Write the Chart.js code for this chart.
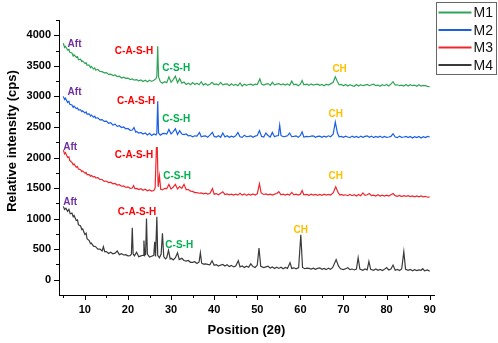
<!DOCTYPE html>
<html>
<head>
<meta charset="utf-8">
<script src="https://cdn.jsdelivr.net/npm/chart.js@4.4.0/dist/chart.umd.min.js"></script>
<style>
  html, body { margin: 0; padding: 0; background: #fff; }
</style>
</head>
<body>
<canvas id="xrd" width="498" height="343"></canvas>
<script>
// series names / colours
const seriesNames = ['M1', 'M2', 'M3', 'M4'];
const seriesColors = ['#2ea556', '#1a5fe6', '#f0262d', '#3a3a3a'];

// [2theta, counts]
const m1 = [
  [5,3870],[5.3,3800],[5.5,3820],[6,3760],[6.3,3770],[6.5,3720],[7,3710],[7.3,3660],[7.5,3680],[8,3640],[8.3,3650],[8.5,3600],[9,3610],[9.3,3570],[9.5,3580],
  [10,3540],[10.3,3550],[10.5,3510],[11,3510],[11.3,3470],[11.5,3490],[12,3450],[12.3,3465],[12.5,3430],[13,3440],[13.5,3410],[14,3405],[14.5,3385],
  [15,3390],[15.5,3360],[16,3365],[16.5,3340],[17,3350],[17.5,3325],[18,3330],[18.5,3300],[19,3315],[19.5,3295],
  [20,3300],[20.5,3275],[21,3285],[21.5,3265],[22,3275],[22.5,3255],[23,3270],[23.5,3245],[24,3265],[24.5,3240],
  [25,3265],[25.5,3245],[26,3265],[26.5,3290],[26.7,3330],[26.9,3820],[27.1,3320],[27.5,3240],[28,3215],[28.5,3240],
  [29,3225],[29.5,3320],[30,3230],[30.5,3275],[31,3330],[31.5,3225],[32,3290],[32.5,3215],[33,3235],[33.5,3195],[34,3215],[34.5,3190],
  [35,3225],[35.5,3195],[36,3215],[36.5,3190],[37,3240],[37.5,3185],[38,3210],[38.5,3180],[39,3200],[39.5,3230],
  [40,3195],[40.5,3205],[41,3185],[41.5,3230],[42,3190],[42.5,3200],[43,3205],[43.5,3175],[44,3205],[44.5,3180],
  [45,3195],[45.5,3175],[46,3220],[46.5,3170],[47,3200],[47.5,3180],[48,3195],[48.5,3200],[49,3180],[49.5,3200],
  [50,3195],[50.6,3285],[51,3200],[51.5,3185],[52,3200],[52.5,3210],[53,3180],[53.5,3230],[54,3190],[54.5,3200],
  [55,3210],[55.5,3190],[56,3205],[56.5,3185],[57,3205],[57.5,3180],[58,3250],[58.5,3190],[59,3200],[59.5,3175],
  [60,3200],[60.4,3260],[60.8,3190],[61.5,3200],[62,3180],[62.5,3205],[63,3185],[63.5,3195],[64,3200],[64.5,3180],
  [65,3195],[65.5,3175],[66,3200],[66.5,3185],[67,3205],[67.6,3230],[68.1,3320],[68.6,3240],[69,3190],[69.5,3195],
  [70,3175],[70.5,3195],[71,3170],[71.5,3190],[72,3175],[72.5,3165],[73,3195],[73.5,3170],[74,3190],[74.5,3175],
  [75,3185],[75.5,3195],[76,3175],[76.5,3190],[77,3200],[77.5,3175],[78,3185],[78.5,3165],[79,3190],[79.5,3175],
  [80,3195],[80.5,3170],[81,3200],[81.5,3240],[82,3185],[82.5,3190],[83,3175],[83.5,3185],[84,3170],[84.5,3195],
  [85,3170],[85.5,3190],[86,3175],[86.5,3185],[87,3165],[87.5,3190],[88,3170],[88.5,3180],[89,3175],[89.5,3165],[90,3160]
];

const m2 = [
  [5,3000],[5.3,2950],[5.5,2970],[6,2900],[6.3,2920],[6.5,2870],[7,2860],[7.3,2820],[7.5,2840],[8,2800],[8.3,2810],[8.5,2780],[9,2780],[9.3,2750],[9.5,2765],
  [10,2730],[10.3,2745],[10.5,2710],[11,2715],[11.3,2680],[11.5,2695],[12,2660],[12.3,2675],[12.5,2645],[13,2650],[13.5,2615],[14,2620],[14.5,2590],
  [15,2595],[15.5,2560],[16,2570],[16.5,2530],[17,2545],[17.5,2510],[18,2520],[18.5,2490],[19,2500],[19.5,2470],
  [20,2475],[20.5,2445],[21,2450],[21.4,2490],[21.8,2415],[22,2425],[22.5,2400],[23,2410],[23.5,2385],[24,2400],[24.5,2370],
  [25,2395],[25.5,2360],[26,2385],[26.5,2370],[26.7,2400],[26.9,2920],[27.1,2400],[27.5,2365],[28,2390],[28.5,2395],
  [29,2385],[29.5,2460],[30,2385],[30.5,2425],[31,2470],[31.5,2375],[32,2440],[32.5,2385],[33,2375],[33.5,2385],[34,2355],[34.5,2360],
  [35,2340],[35.5,2355],[36,2350],[36.6,2410],[37,2340],[37.5,2350],[38,2355],[38.5,2330],[39,2365],[39.6,2410],
  [40,2345],[40.5,2335],[41,2355],[41.5,2330],[42,2400],[42.5,2335],[43,2355],[43.5,2330],[44,2350],[44.5,2335],
  [45,2355],[45.5,2410],[46,2340],[46.5,2330],[47,2365],[47.5,2340],[48,2345],[48.5,2355],[49,2330],[49.5,2350],
  [50,2360],[50.5,2440],[51,2345],[51.5,2335],[52,2400],[52.5,2360],[53,2335],[53.5,2410],[54,2340],[54.5,2355],
  [54.9,2360],[55.2,2530],[55.5,2360],[56,2340],[56.5,2345],[57,2355],[57.5,2400],[58,2340],[58.5,2345],[59,2355],[59.5,2330],
  [60,2360],[60.4,2420],[60.8,2335],[61.5,2345],[62,2340],[62.5,2350],[63,2355],[63.5,2330],[64,2345],[64.5,2350],
  [65,2330],[65.5,2350],[66,2335],[66.5,2355],[67,2340],[67.6,2380],[68.1,2580],[68.6,2400],[69,2340],[69.5,2345],
  [70,2330],[70.5,2350],[71,2335],[71.5,2325],[72,2350],[72.5,2330],[73,2345],[73.5,2325],[74,2350],[74.5,2330],
  [75,2345],[75.5,2355],[76,2330],[76.5,2350],[77,2325],[77.5,2345],[78,2330],[78.5,2350],[79,2325],[79.5,2345],
  [80,2330],[80.5,2335],[81,2345],[81.5,2390],[82,2335],[82.5,2325],[83,2350],[83.5,2330],[84,2335],[84.5,2345],
  [85,2325],[85.5,2345],[86,2320],[86.5,2340],[87,2325],[87.5,2345],[88,2320],[88.5,2340],[89,2325],[89.5,2345],[90,2335]
];

const m3 = [
  [5,2120],[5.3,2060],[5.5,2080],[6,2000],[6.3,2010],[6.5,1950],[7,1920],[7.3,1880],[7.5,1895],[8,1840],[8.3,1850],[8.5,1810],[9,1800],[9.3,1770],[9.5,1780],
  [10,1745],[10.3,1755],[10.5,1720],[11,1720],[11.3,1695],[11.5,1705],[12,1680],[12.3,1690],[12.5,1665],[13,1670],[13.5,1640],[14,1640],[14.5,1610],
  [15,1615],[15.5,1590],[16,1595],[16.5,1570],[17,1575],[17.5,1550],[18,1555],[18.5,1530],[19,1535],[19.5,1510],
  [20,1520],[20.5,1495],[21,1500],[21.3,1540],[21.6,1490],[22,1495],[22.5,1475],[23,1490],[23.5,1465],[24,1480],[24.5,1455],
  [25,1470],[25.5,1450],[26,1460],[26.3,1500],[26.6,2160],[26.8,2160],[27,1520],[27.3,1700],[27.6,1480],[28,1470],[28.5,1495],
  [29,1490],[29.5,1560],[30,1485],[30.5,1515],[31,1560],[31.5,1485],[32,1525],[32.5,1495],[33,1560],[33.5,1475],[34,1475],[34.5,1450],
  [35,1445],[35.5,1425],[36,1425],[36.5,1415],[37,1420],[37.5,1405],[38,1415],[38.5,1400],[39,1410],[39.6,1490],
  [40,1400],[40.5,1410],[41,1390],[41.5,1415],[42,1440],[42.5,1395],[43,1405],[43.5,1390],[44,1400],[44.5,1385],
  [45,1400],[45.5,1385],[46,1415],[46.5,1385],[47,1405],[47.5,1380],[48,1400],[48.5,1385],[49,1405],[49.5,1385],
  [50,1405],[50.5,1570],[50.9,1420],[51.5,1395],[52,1405],[52.5,1390],[53,1400],[53.5,1385],[54,1400],[54.5,1410],
  [55,1440],[55.5,1390],[56,1400],[56.5,1385],[57,1400],[57.5,1385],[58,1430],[58.5,1390],[59,1400],[59.5,1385],
  [60,1400],[60.4,1460],[60.8,1390],[61.5,1395],[62,1380],[62.5,1400],[63,1385],[63.5,1395],[64,1380],[64.5,1395],
  [65,1380],[65.5,1400],[66,1385],[66.5,1395],[67,1385],[67.6,1420],[68.2,1520],[68.8,1420],[69.2,1385],[69.5,1395],
  [70,1380],[70.5,1390],[71,1375],[71.5,1395],[72,1375],[72.5,1390],[73,1370],[73.5,1395],[74,1375],[74.5,1420],
  [75,1380],[75.5,1390],[76,1410],[76.5,1375],[77,1385],[77.5,1370],[78,1390],[78.5,1370],[79,1385],[79.5,1370],
  [80,1385],[80.5,1370],[81,1390],[81.5,1410],[82,1375],[82.5,1365],[83,1380],[83.5,1360],[84,1375],[84.5,1365],
  [85,1375],[85.5,1360],[86,1370],[86.5,1355],[87,1370],[87.5,1355],[88,1370],[88.5,1355],[89,1365],[89.5,1350],[90,1355]
];

const m4 = [
  [5,1200],[5.3,1150],[5.6,1170],[6,1120],[6.3,1150],[6.6,1080],[7,1090],[7.3,1030],[7.5,1050],[8,970],[8.3,980],[8.5,900],[9,880],[9.3,820],[9.5,830],
  [10,740],[10.3,760],[10.5,670],[11,640],[11.3,590],[11.5,600],[12,550],[12.5,540],[13,500],[13.5,500],[14,470],[14.3,540],[14.6,460],[15,460],
  [15.5,430],[16,450],[16.5,425],[17,435],[17.5,470],[18,410],[18.5,425],[19,405],[19.5,410],[20,390],
  [20.5,395],[20.8,420],[21,850],[21.2,420],[21.5,390],[22,450],[22.5,375],[23,390],[23.5,400],[23.7,640],[23.9,400],
  [24.1,420],[24.3,1000],[24.5,420],[25,370],[25.5,385],[26,400],[26.2,620],[26.4,380],[26.7,1030],[26.9,400],[27.3,360],
  [27.7,420],[28,760],[28.3,380],[28.7,340],[29,360],[29.4,480],[29.8,340],[30,350],[30.5,325],[31,360],[31.5,440],[31.9,330],
  [32.5,350],[33,315],[33.5,305],[34,315],[34.5,285],[35,285],[35.5,295],[36,265],[36.5,290],[36.8,440],[37.1,270],[37.5,255],
  [38,260],[38.5,250],[39,245],[39.5,310],[40,235],[40.5,245],[41,225],[41.5,240],[42,250],[42.5,225],[43,245],[43.5,215],
  [44,235],[44.5,210],[45,225],[45.6,310],[46,210],[46.5,225],[47,200],[47.5,220],[48,205],[48.5,260],[49,215],[49.5,200],
  [50,240],[50.4,520],[50.8,220],[51.5,200],[52,210],[52.5,220],[53,190],[53.5,210],[54,185],[54.5,205],[55,185],[55.5,205],
  [56,180],[56.5,200],[57,185],[57.6,280],[58,185],[58.5,195],[59,180],[59.6,200],[60.1,735],[60.5,200],[61,180],[61.5,190],
  [62,185],[62.5,175],[63,190],[63.5,170],[64,185],[64.5,195],[65,170],[65.5,185],[66,165],[66.5,190],[67,170],[67.5,200],
  [68.3,330],[68.8,230],[69.3,180],[70,165],[70.5,180],[71,195],[71.5,165],[72,175],[72.5,160],[73,175],[73.4,360],[73.8,175],
  [74.5,155],[75,175],[75.5,160],[75.9,300],[76.3,170],[77,155],[77.5,175],[78,155],[78.5,170],[79,150],[79.5,170],
  [80,200],[80.5,160],[81,175],[81.5,240],[82,155],[82.5,170],[83,150],[83.5,175],[84,460],[84.4,170],[85,155],
  [85.5,170],[86,145],[86.5,165],[87,150],[87.5,160],[88,155],[88.4,180],[88.8,145],[89.5,160],[90,140]
];

const xTicks = [5,10,15,20,25,30,35,40,45,50,55,60,65,70,75,80,85,90];
const yTicks = [0,500,1000,1500,2000,2500,3000,3500,4000];
const yMinor = [250,750,1250,1750,2250,2750,3250,3750,4250];

// phase labels: text, anchor in data units
const phaseText  = ['Aft','C-A-S-H','C-S-H','CH', 'Aft','C-A-S-H','C-S-H','CH', 'Aft','C-A-S-H','C-S-H','CH', 'Aft','C-A-S-H','C-S-H','CH'];
const phaseTheta = [7.6,21.4,31.2,69.1, 7.6,21.9,31.2,68.2, 6.6,21.4,31.4,68.2, 6.6,22.1,31.9,60.1];
const phaseCount = [3854,3740,3462,3446, 3070,2923,2629,2711, 2172,2041,1698,1698, 1274,1110,572,817];
const phaseColors = { 'Aft': '#7030a0', 'C-A-S-H': '#ff0000', 'C-S-H': '#00b050', 'CH': '#ffc000' };

const FONT = "'Liberation Sans', Arial, sans-serif";

const tickMarks = {
  id: 'tickMarks',
  afterDraw(chart) {
    const { ctx, chartArea, scales } = chart;
    ctx.save();
    ctx.strokeStyle = '#000';
    ctx.lineWidth = 1;
    ctx.beginPath();
    xTicks.forEach((v) => {
      const px = Math.round(scales.x.getPixelForValue(v)) + 0.5;
      const len = v % 10 === 0 ? 5 : 3;
      ctx.moveTo(px, chartArea.bottom);
      ctx.lineTo(px, chartArea.bottom + len);
    });
    yTicks.concat(yMinor).forEach((v) => {
      const py = Math.round(scales.y.getPixelForValue(v)) + 0.5;
      const len = v % 500 === 0 ? 5 : 3;
      ctx.moveTo(chartArea.left, py);
      ctx.lineTo(chartArea.left - len, py);
    });
    ctx.stroke();
    ctx.restore();
  }
};

const axisTitles = {
  id: 'axisTitles',
  afterDraw(chart) {
    const { ctx, chartArea } = chart;
    ctx.save();
    ctx.fillStyle = '#000';
    ctx.font = 'bold 13px ' + FONT;
    ctx.textAlign = 'center';
    ctx.textBaseline = 'middle';
    ctx.fillText('Position (2θ)', (chartArea.left + chartArea.right) / 2, chartArea.bottom + 35);
    ctx.translate(12, chartArea.top + 121);
    ctx.rotate(-Math.PI / 2);
    ctx.fillText('Relative intensity (cps)', 0, 0);
    ctx.restore();
  }
};

const phaseLabels = {
  id: 'phaseLabels',
  afterDatasetsDraw(chart) {
    const { ctx, scales } = chart;
    ctx.save();
    ctx.font = 'bold 10px ' + FONT;
    ctx.textAlign = 'center';
    ctx.textBaseline = 'middle';
    phaseText.forEach((t, i) => {
      ctx.fillStyle = phaseColors[t];
      ctx.fillText(t, scales.x.getPixelForValue(phaseTheta[i]), scales.y.getPixelForValue(phaseCount[i]));
    });
    ctx.restore();
  }
};

const boxLegend = {
  id: 'boxLegend',
  afterDraw(chart) {
    const { ctx, chartArea } = chart;
    const left = chartArea.right + 2.5;
    const top = 2.5;
    ctx.save();
    ctx.strokeStyle = '#666';
    ctx.lineWidth = 1;
    ctx.strokeRect(left, top, 60, 72);
    ctx.font = '14px ' + FONT;
    ctx.textBaseline = 'middle';
    ctx.textAlign = 'left';
    chart.data.datasets.forEach((ds, i) => {
      const y = 12.5 + i * 17.5;
      ctx.strokeStyle = ds.borderColor;
      ctx.lineWidth = 2;
      ctx.beginPath();
      ctx.moveTo(left + 2, y);
      ctx.lineTo(left + 35, y);
      ctx.stroke();
      ctx.fillStyle = '#111';
      ctx.fillText(ds.label, left + 37, y + 1);
    });
    ctx.restore();
  }
};

const series = [m1, m2, m3, m4];

new Chart(document.getElementById('xrd').getContext('2d'), {
  type: 'line',
  data: {
    datasets: series.map((pts, i) => ({
      label: seriesNames[i],
      data: pts.map(([x, y]) => ({ x, y })),
      borderColor: seriesColors[i],
      backgroundColor: seriesColors[i],
      borderWidth: 1.2,
      pointRadius: 0,
      tension: 0,
      fill: false,
    })),
  },
  options: {
    responsive: false,
    animation: false,
    layout: { padding: { left: 0, top: 20, right: 64, bottom: 0 } },
    plugins: {
      legend: { display: false },
      tooltip: { enabled: false },
    },
    scales: {
      x: {
        type: 'linear',
        min: 4,
        max: 91,
        afterBuildTicks: (s) => { s.ticks = xTicks.map((v) => ({ value: v })); },
        afterFit: (s) => { s.height = 48; },
        ticks: {
          autoSkip: false,
          maxRotation: 0,
          padding: 3,
          color: '#000',
          font: { family: FONT, size: 11, weight: 'bold' },
          callback: (v) => (v % 10 === 0 ? String(v) : ''),
        },
        grid: { display: false, drawTicks: true, tickLength: 5 },
        border: { display: true, color: '#000', width: 1 },
      },
      y: {
        min: -250,
        max: 4250,
        afterBuildTicks: (s) => { s.ticks = yTicks.map((v) => ({ value: v })); },
        afterFit: (s) => { s.width = 59; },
        ticks: {
          padding: 3,
          color: '#000',
          font: { family: FONT, size: 11, weight: 'bold' },
          callback: (v) => String(v),
        },
        grid: { display: false, drawTicks: true, tickLength: 5 },
        border: { display: true, color: '#000', width: 1 },
      },
    },
  },
  plugins: [tickMarks, axisTitles, phaseLabels, boxLegend],
});
</script>
</body>
</html>
